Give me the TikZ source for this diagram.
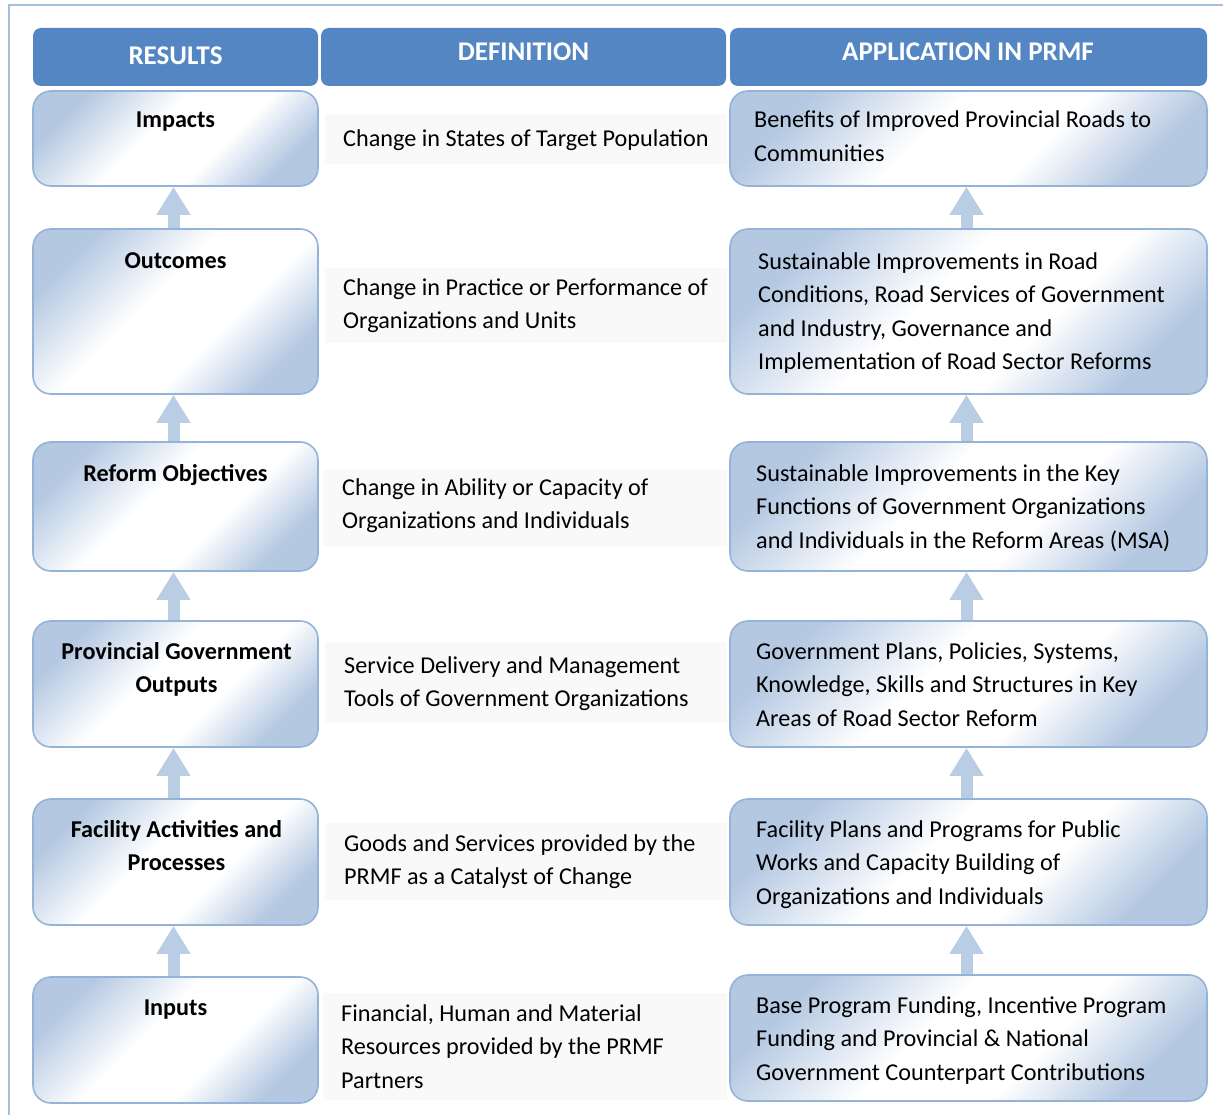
\documentclass[tikz,border=0pt]{standalone}
\usepackage{fontspec}
\setmainfont{Carlito}
\usetikzlibrary{arrows.meta}
\pgfdeclarelayer{background}
\pgfsetlayers{background,main}
\definecolor{hdr}{HTML}{5486C4}
\definecolor{bord}{HTML}{95B3D7}
\definecolor{shd}{HTML}{B4C8E2}
\definecolor{arr}{HTML}{B9CDE5}
\definecolor{framec}{HTML}{A6BEDE}
\definecolor{defbg}{HTML}{F9F9F9}
\pgfdeclarehorizontalshading{boxshade}{100bp}{color(0bp)=(shd); color(25bp)=(shd); color(44bp)=(white); color(60bp)=(white); color(75bp)=(shd); color(100bp)=(shd)}
\begin{document}
\begin{tikzpicture}[x=1pt,y=-1pt,
  hdrbox/.style={fill=hdr, rounded corners=8pt, inner sep=0pt, draw=none},
  hdrtxt/.style={text=white, font=\fontsize{27}{30}\selectfont\bfseries, inner sep=0pt, anchor=base},
  resbox/.style={draw=bord, line width=1.6pt, rounded corners=18pt, shading=boxshade, shading angle=-45, inner sep=0pt},
  boldtxt/.style={font=\fontsize{24.2}{33.6}\selectfont\bfseries, align=center, inner sep=0pt, anchor=base},
  plaintxt/.style={font=\fontsize{24.2}{33.6}\selectfont, align=left, inner sep=0pt, anchor=base west},
  defbox/.style={fill=defbg, draw=none, inner sep=0pt},
  uparrow/.style={draw=arr, line width=12pt, -{Triangle[width=32pt,length=28pt]}}
]
\useasboundingbox (0,0) rectangle (1223,1115);
\begin{pgfonlayer}{background}
\fill[white] (0,0) rectangle (1223,1115);
\end{pgfonlayer}
\draw[framec, line width=2.5pt] (9,5) rectangle (1240,1130);

% headers
\node[hdrbox, minimum width=285pt, minimum height=58pt] (h1) at (175.5,57) {};
\node[hdrbox, minimum width=405pt, minimum height=58pt] (h2) at (523.5,57) {};
\node[hdrbox, minimum width=477pt, minimum height=58pt] (h3) at (968.5,57) {};
\node[hdrtxt] (h1t) at (175.5,65) {RESULTS};
\node[hdrtxt] (h2t) at (523.5,61) {DEFINITION};
\node[hdrtxt] (h3t) at (968,61) {APPLICATION IN PRMF};

% definition backgrounds
\node[defbox, minimum width=402pt, minimum height=50pt] (d1) at (526,139) {};
\node[defbox, minimum width=402pt, minimum height=75pt] (d2) at (526,305.5) {};
\node[defbox, minimum width=404pt, minimum height=76pt] (d3) at (525,508) {};
\node[defbox, minimum width=402pt, minimum height=81pt] (d4) at (526,682.5) {};
\node[defbox, minimum width=402pt, minimum height=77pt] (d5) at (526,861.5) {};
\node[defbox, minimum width=404pt, minimum height=107pt] (d6) at (525,1046.5) {};

% left boxes
\node[resbox, minimum width=285pt, minimum height=95pt] (L1) at (175.5,138.5) {};
\node[resbox, minimum width=285pt, minimum height=165pt] (L2) at (175.5,311.5) {};
\node[resbox, minimum width=285pt, minimum height=129pt] (L3) at (175.5,506.5) {};
\node[resbox, minimum width=285pt, minimum height=126pt] (L4) at (175.5,684) {};
\node[resbox, minimum width=285pt, minimum height=126pt] (L5) at (175.5,862) {};
\node[resbox, minimum width=285pt, minimum height=126pt] (L6) at (175.5,1040) {};

% right boxes
\node[resbox, minimum width=477pt, minimum height=95pt] (R1) at (968.5,138.5) {};
\node[resbox, minimum width=477pt, minimum height=165pt] (R2) at (968.5,311.5) {};
\node[resbox, minimum width=477pt, minimum height=129pt] (R3) at (968.5,506.5) {};
\node[resbox, minimum width=477pt, minimum height=126pt] (R4) at (968.5,684) {};
\node[resbox, minimum width=477pt, minimum height=126pt] (R5) at (968.5,862) {};
\node[resbox, minimum width=477pt, minimum height=126pt] (R6) at (968.5,1038) {};

% arrows
\begin{pgfonlayer}{background}
\foreach \a/\b in {L2/L1,L3/L2,L4/L3,L5/L4,L6/L5,R2/R1,R3/R2,R4/R3,R5/R4,R6/R5}
  \draw[uparrow] ([xshift=-2pt]\a.north) -- ([xshift=-2pt]\b.south);
\end{pgfonlayer}

% left texts (anchor = baseline of last line)
\node[boldtxt] (lt1) at (175.5,128) {Impacts};
\node[boldtxt] (lt2) at (175.5,269) {Outcomes};
\node[boldtxt] (lt3) at (175.5,481) {Reform Objectives};
\node[boldtxt] (lt4) at (176.5,692.6) {Provincial Government\\Outputs};
\node[boldtxt] (lt5) at (176.5,870.6) {Facility Activities and\\Processes};
\node[boldtxt] (lt6) at (175.5,1015) {Inputs};

% definition texts
\node[plaintxt] (dt1) at (343,147) {Change in States of Target Population};
\node[plaintxt] (dt2) at (343,328.6) {Change in Practice or Performance of\\Organizations and Units};
\node[plaintxt] (dt3) at (342,528.6) {Change in Ability or Capacity of\\Organizations and Individuals};
\node[plaintxt] (dt4) at (344,706.6) {Service Delivery and Management\\Tools of Government Organizations};
\node[plaintxt] (dt5) at (344,884.6) {Goods and Services provided by the\\PRMF as a Catalyst of Change};
\node[plaintxt] (dt6) at (341,1088.2) {Financial, Human and Material\\Resources provided by the PRMF\\Partners};

% application texts
\node[plaintxt] (rt1) at (754,161.6) {Benefits of Improved Provincial Roads to\\Communities};
\node[plaintxt] (rt2) at (758,369.8) {Sustainable Improvements in Road\\Conditions, Road Services of Government\\and Industry, Governance and\\Implementation of Road Sector Reforms};
\node[plaintxt] (rt3) at (756,548.2) {Sustainable Improvements in the Key\\Functions of Government Organizations\\and Individuals in the Reform Areas (MSA)};
\node[plaintxt] (rt4) at (756,726.2) {Government Plans, Policies, Systems,\\Knowledge, Skills and Structures in Key\\Areas of Road Sector Reform};
\node[plaintxt] (rt5) at (756,904.2) {Facility Plans and Programs for Public\\Works and Capacity Building of\\Organizations and Individuals};
\node[plaintxt] (rt6) at (756,1080.2) {Base Program Funding, Incentive Program\\Funding and Provincial \& National\\Government Counterpart Contributions};
\end{tikzpicture}
\end{document}
